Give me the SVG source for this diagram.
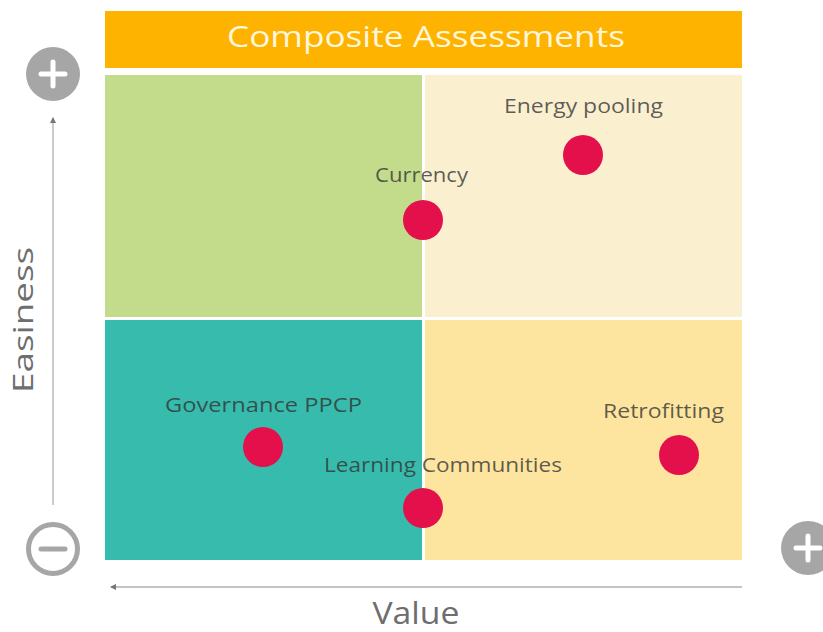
<svg xmlns="http://www.w3.org/2000/svg" width="823" height="632" viewBox="0 0 823 632">
<style>
.lbl{font-family:"Open Sans","Liberation Sans",sans-serif;font-size:20px;fill:#333;fill-opacity:0.78;text-anchor:middle}
.axis{font-family:"Open Sans","Liberation Sans",sans-serif;fill:#6e6e6e;text-anchor:middle}
.dot{fill:#E3104C}
.ax{stroke:#b0b0b0;stroke-width:1.3;fill:none}
</style>
<defs>
<marker id="ah" viewBox="0 0 6 6" refX="5" refY="3" markerWidth="5" markerHeight="5" orient="auto">
<path d="M0,0 L6,3 L0,6 z" fill="#777"/>
</marker>
</defs>
<rect width="823" height="632" fill="#fff"/>
<g id="title">
<rect x="105" y="11" width="637" height="57" fill="#FDB300"/>
<text x="426" y="47" font-family="'Open Sans','Liberation Sans',sans-serif" font-size="30" fill="#FFF6DC" text-anchor="middle" textLength="398" lengthAdjust="spacingAndGlyphs">Composite Assessments</text>
</g>
<g id="quadrants">
<rect x="105" y="75" width="317" height="242" fill="#C2DC8B"/>
<rect x="425" y="75" width="317" height="242" fill="#FAF0D0"/>
<rect x="105" y="320" width="317" height="240" fill="#36BBAD"/>
<rect x="425" y="320" width="317" height="240" fill="#FDE59F"/>
</g>
<g id="connectors">
<line class="ax" x1="53" y1="505" x2="53" y2="118" marker-end="url(#ah)"/>
<line class="ax" x1="742" y1="587" x2="111" y2="587" marker-end="url(#ah)"/>
</g>
<g id="plus-top">
<circle cx="53" cy="74" r="27" fill="#A6A6A6"/>
<path d="M41,74 H65 M53,62 V86" stroke="#fff" stroke-width="5" stroke-linecap="round"/>
</g>
<g id="minus-bottom">
<circle cx="53" cy="549" r="24.5" fill="none" stroke="#A6A6A6" stroke-width="5"/>
<path d="M41,549 H65" stroke="#A6A6A6" stroke-width="5" stroke-linecap="round"/>
</g>
<g id="plus-right">
<circle cx="808" cy="548" r="27" fill="#A6A6A6"/>
<path d="M796,548 H820 M808,536 V560" stroke="#fff" stroke-width="5" stroke-linecap="round"/>
</g>
<g id="axis-labels">
<text class="axis" x="416" y="624" font-size="31" textLength="87" lengthAdjust="spacingAndGlyphs">Value</text>
<text class="axis" transform="translate(33,320) rotate(-90)" x="0" y="0" font-size="28" textLength="146" lengthAdjust="spacingAndGlyphs">Easiness</text>
</g>
<g id="energy-pooling">
<circle class="dot" cx="583" cy="155" r="20"/>
<text class="lbl" x="583.5" y="113" textLength="159" lengthAdjust="spacingAndGlyphs">Energy pooling</text>
</g>
<g id="currency">
<circle class="dot" cx="423" cy="220" r="20"/>
<text class="lbl" x="421.5" y="182" textLength="93" lengthAdjust="spacingAndGlyphs">Currency</text>
</g>
<g id="governance">
<circle class="dot" cx="263" cy="447" r="20"/>
<text class="lbl" x="263.5" y="412" textLength="197" lengthAdjust="spacingAndGlyphs">Governance PPCP</text>
</g>
<g id="learning">
<circle class="dot" cx="423" cy="508" r="20"/>
<text class="lbl" x="443" y="472" textLength="238" lengthAdjust="spacingAndGlyphs">Learning Communities</text>
</g>
<g id="retrofitting">
<circle class="dot" cx="679" cy="455" r="20"/>
<text class="lbl" x="663.5" y="418" textLength="121" lengthAdjust="spacingAndGlyphs">Retrofitting</text>
</g>
</svg>
